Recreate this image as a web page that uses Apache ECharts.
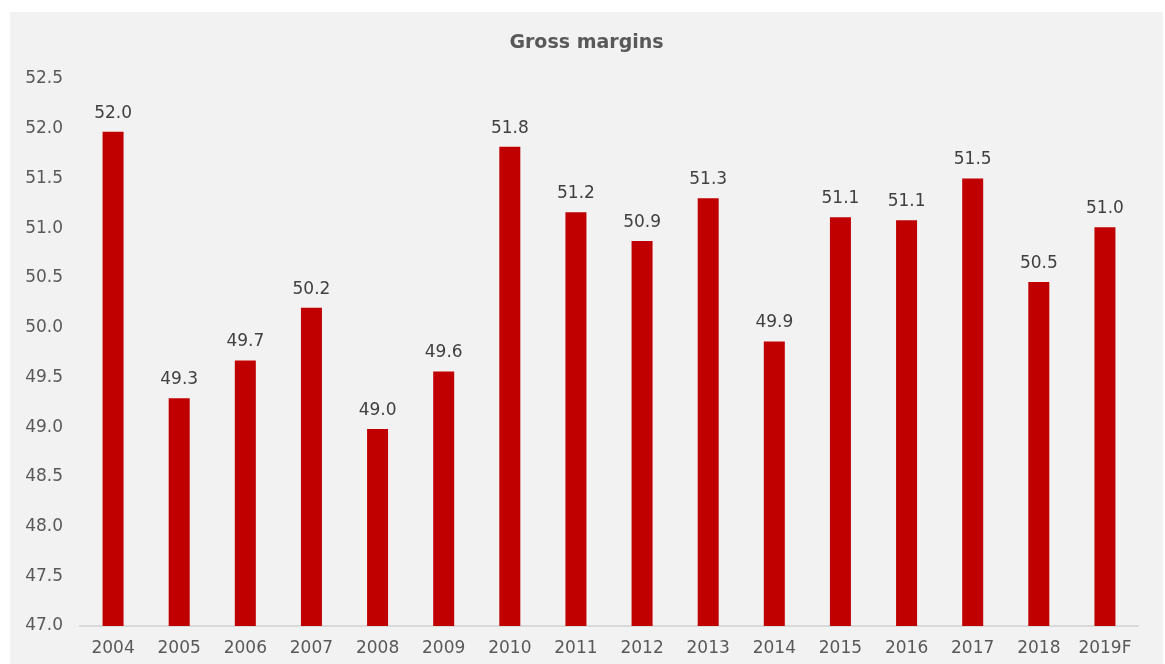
<!DOCTYPE html>
<html>
<head>
<meta charset="utf-8">
<script src="https://cdn.jsdelivr.net/npm/echarts@6/dist/echarts.min.js"></script>
<style>
  html, body { margin: 0; padding: 0; background: #ffffff; }
  #chart { position: absolute; left: 10px; top: 12px; width: 1153px; height: 652px; }
</style>
</head>
<body>
<div id="chart"></div>
<script>
const years = ['2004', '2005', '2006', '2007', '2008', '2009', '2010', '2011',
  '2012', '2013', '2014', '2015', '2016', '2017', '2018', '2019F'];
const margins = [51.97, 49.29, 49.67, 50.2, 48.98, 49.56, 51.82, 51.16,
  50.87, 51.3, 49.86, 51.11, 51.08, 51.5, 50.46, 51.01];

const chart = echarts.init(document.getElementById('chart'));
const font = 'DejaVu Sans, Verdana, sans-serif';

chart.setOption({
  backgroundColor: '#f2f2f2',
  animation: false,
  title: {
    text: 'Gross margins',
    left: 'center',
    top: 17,
    textStyle: { fontFamily: font, fontSize: 19, fontWeight: 'bold', color: '#595959' }
  },
  grid: { left: 70, right: 25, top: 67, bottom: 38 },
  xAxis: {
    type: 'category',
    data: years,
    axisLine: { lineStyle: { color: '#d9d9d9', width: 2 } },
    axisTick: { show: false },
    axisLabel: { interval: 0, fontFamily: font, fontSize: 17, color: '#595959', margin: 14 }
  },
  yAxis: {
    type: 'value',
    min: 47,
    max: 52.5,
    interval: 0.5,
    axisLine: { show: false },
    axisTick: { show: false },
    splitLine: { show: false },
    axisLabel: {
      fontFamily: font, fontSize: 17, color: '#595959', margin: 17,
      formatter: v => v.toFixed(1)
    }
  },
  series: [{
    type: 'bar',
    data: margins,
    barWidth: 21,
    itemStyle: { color: '#c00000' },
    label: {
      show: true,
      position: 'top',
      distance: 10,
      fontFamily: font,
      fontSize: 17,
      color: '#404040',
      formatter: p => p.value.toFixed(1)
    }
  }]
});
</script>
</body>
</html>
